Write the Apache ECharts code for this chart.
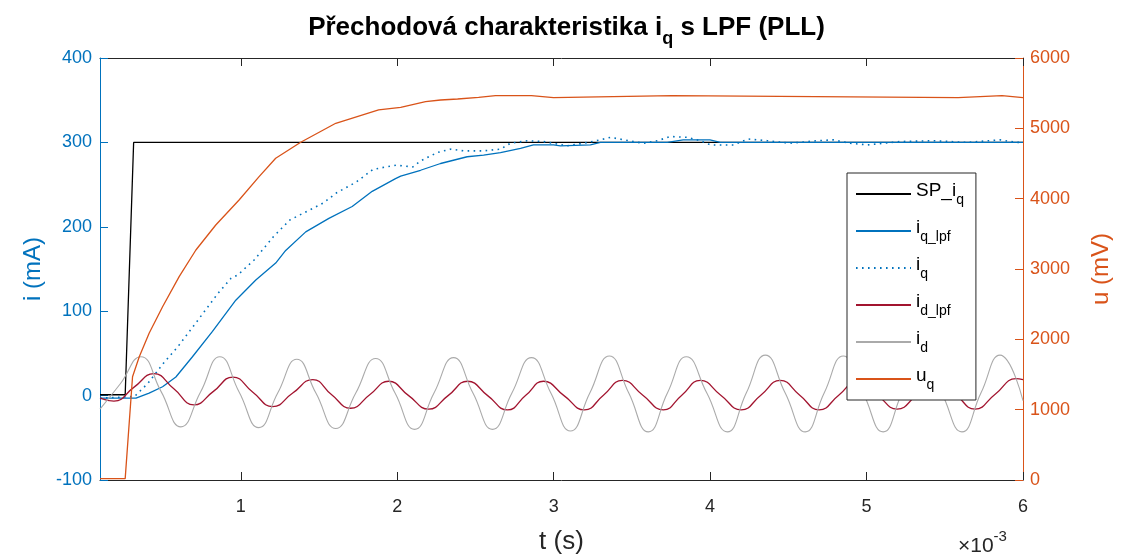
<!DOCTYPE html>
<html>
<head>
<meta charset="utf-8">
<script src="https://cdn.jsdelivr.net/npm/echarts@6/dist/echarts.min.js"></script>
<style>
html, body { margin: 0; padding: 0; background: #fff; }
#chart { width: 1133px; height: 556px; }
</style>
</head>
<body>
<div id="chart"></div>
<script>
// osa x v ms (zobrazeno jako x10^-3 s)
var xTicks = [1, 2, 3, 4, 5, 6];

// SP_iq - zadana hodnota
var tSp = [0.1, 0.261, 0.315, 6];
var spIq = [1, 1, 300, 300];

// iq_lpf - filtrovany proud
var tIqLpf = [0.1, 0.33, 0.414, 0.5, 0.585, 0.691, 0.819, 0.968, 1.096, 1.223, 1.287, 1.415, 1.563, 1.712, 1.84, 1.989,
  2.022, 2.149, 2.277, 2.447, 2.552, 2.66, 2.788, 2.871, 2.999, 3.043, 3.235, 3.299, 3.726, 3.828, 3.999, 4.065, 6];
var iqLpf = [-3, -3, 3, 10.5, 22, 46, 76, 113, 137, 157, 172, 194, 210, 224, 242, 257,
  260, 267, 275, 283, 285, 288, 293, 297, 297, 296, 297, 300, 300, 303, 303, 300, 300];

// iq - nefiltrovany proud
var tIq = [0.1, 0.321, 0.406, 0.513, 0.598, 0.704, 0.789, 0.853, 0.938, 0.981, 1.087, 1.207, 1.313, 1.398, 1.526, 1.61,
  1.738, 1.845, 1.93, 1.994, 2.1, 2.149, 2.256, 2.341, 2.424, 2.552, 2.66, 2.724, 2.831, 2.935, 3.088, 3.19, 3.299,
  3.363, 3.51, 3.573, 3.663, 3.746, 3.854, 3.937, 4.003, 4.149, 4.244, 4.365, 4.512, 4.684, 4.787, 4.895, 5.004,
  5.215, 5.425, 5.642, 5.853, 5.962, 6];
var iq = [-3, -1, 14.5, 40, 58, 84, 105, 121, 139, 143, 161, 188, 208, 216, 228, 240,
  253, 268, 271, 273, 271, 278, 288, 292, 290, 290, 292, 299, 302, 301, 296, 299, 303,
  306, 301, 299, 302, 307, 306, 302, 297, 297, 304, 302, 299, 302, 303, 299, 297,
  301, 302, 300, 303, 300, 300];

// id_lpf
var tIdLpf = [0.1, 0.189, 0.318, 0.444, 0.572, 0.7, 0.825, 0.949, 1.077, 1.204, 1.332, 1.46, 1.581, 1.702, 1.824, 1.945,
  2.073, 2.201, 2.325, 2.45, 2.578, 2.705, 2.82, 2.935, 3.066, 3.197, 3.318, 3.439, 3.57, 3.701, 3.819, 3.937,
  4.068, 4.199, 4.324, 4.448, 4.573, 4.697, 4.822, 4.946, 5.071, 5.195, 5.323, 5.451, 5.572, 5.693, 5.824, 5.955, 6];
var idLpf = [-3, -6.5, 10, 26, 8, -11, 5, 22, 4, -13, 3, 19, 1, -15, 1, 17,
  0, -16, 0, 17, 0, -17, 0, 17, 0, -17, 0.5, 18, 0.5, -17, 0.5, 18,
  0.5, -17, 0.5, 18, 0.5, -17, 0.5, 18, 0.5, -16, 1, 19, 1, -16, 2, 20, 19];

// id
var tId = [0.1, 0.23, 0.361, 0.49, 0.617, 0.742, 0.866, 0.99, 1.115, 1.236, 1.358, 1.48, 1.607, 1.735, 1.862, 1.986,
  2.111, 2.235, 2.36, 2.484, 2.609, 2.733, 2.858, 2.982, 3.107, 3.231, 3.356, 3.48, 3.605, 3.727, 3.848, 3.979,
  4.11, 4.231, 4.353, 4.48, 4.608, 4.729, 4.851, 4.978, 5.106, 5.227, 5.349, 5.48, 5.61, 5.731, 5.853, 6];
var id = [-16, 14, 46, 5, -37, 4, 46, 4, -38, 3, 43, 3, -39, 3, 44, 3,
  -40, 3, 45, 3, -40, 3, 45, 3, -42, 3, 47, 3, -43, 3, 46, 3,
  -43, 3, 48, 3, -43, 3, 47, 3, -43, 3, 47, 3, -43, 3, 48, -6];

// uq - napeti (mV), prava osa
var tUq = [0.1, 0.261, 0.308, 0.351, 0.414, 0.5, 0.606, 0.713, 0.84, 0.989, 1.117, 1.223, 1.383, 1.607, 1.881,
  2.022, 2.181, 2.277, 2.386, 2.52, 2.628, 2.858, 2.858, 2.999, 2.999, 3.759, 3.759, 5.585, 5.585, 5.866, 5.866, 6];
var uq = [20, 20, 1469, 1753, 2086, 2464, 2891, 3270, 3626, 3981, 4313, 4574, 4802, 5072, 5261,
  5299, 5379, 5403, 5417, 5441, 5464, 5464, 5436, 5436, 5464, 5464, 5436, 5436, 5464, 5464, 5436, 5436];

var legendLabels = {
  'SP_iq': '{m|SP_i}{s|q}',
  'iq_lpf': '{m|i}{s|q_lpf}',
  'iq': '{m|i}{s|q}',
  'id_lpf': '{m|i}{s|d_lpf}',
  'id': '{m|i}{s|d}',
  'uq': '{m|u}{s|q}'
};

function pairs(t, v) {
  return t.map(function (x, i) { return [x, v[i]]; });
}

var FONT = 'Liberation Sans';
var BLUE = '#0072BD';
var ORANGE = '#D95319';
var DARK = '#262626';

var chart = echarts.init(document.getElementById('chart'));
var option = {
  backgroundColor: '#fff',
  animation: false,
  textStyle: { fontFamily: FONT },
  title: {
    text: '{t|Přechodová charakteristika i}{ts|q}{t| s LPF (PLL)}',
    left: 'center',
    top: 15,
    padding: [0, 10, 0, 0],
    textStyle: {
      rich: {
        t: { fontFamily: FONT, fontWeight: 'bold', fontSize: 26, color: '#000', lineHeight: 33, verticalAlign: 'top' },
        ts: { fontFamily: FONT, fontWeight: 'bold', fontSize: 18, color: '#000', lineHeight: 33, verticalAlign: 'bottom' }
      }
    }
  },
  grid: { left: 100, right: 110, top: 58, bottom: 76, containLabel: false, outerBoundsMode: 'none' },
  legend: {
    orient: 'vertical',
    left: 847,
    top: 173,
    padding: [8, 12, 8, 8],
    itemWidth: 55,
    itemHeight: 14,
    itemGap: 11,
    borderColor: DARK,
    borderWidth: 1,
    borderRadius: 0,
    backgroundColor: '#fff',
    itemStyle: { opacity: 0 },
    data: ['SP_iq', 'iq_lpf', 'iq', 'id_lpf', 'id', 'uq'],
    formatter: function (name) { return legendLabels[name]; },
    textStyle: {
      rich: {
        m: { fontFamily: FONT, fontSize: 19, color: '#000', lineHeight: 26, verticalAlign: 'top' },
        s: { fontFamily: FONT, fontSize: 14, color: '#000', lineHeight: 26, verticalAlign: 'bottom' }
      }
    }
  },
  xAxis: [
    {
      type: 'value', min: 0.1, max: 6, position: 'bottom',
      name: 't (s)', nameLocation: 'middle', nameGap: 49,
      nameTextStyle: { fontFamily: FONT, fontSize: 26, color: DARK },
      axisLine: { show: true, onZero: false, lineStyle: { color: DARK, width: 1 } },
      axisTick: { show: true, inside: true, length: 8, customValues: xTicks, lineStyle: { color: DARK } },
      axisLabel: { customValues: xTicks, margin: 18, fontFamily: FONT, fontSize: 18, color: DARK },
      splitLine: { show: false }
    },
    {
      type: 'value', min: 0.1, max: 6, position: 'top',
      axisLine: { show: true, onZero: false, lineStyle: { color: DARK, width: 1 } },
      axisTick: { show: true, inside: true, length: 8, customValues: xTicks, lineStyle: { color: DARK } },
      axisLabel: { show: false },
      splitLine: { show: false }
    }
  ],
  yAxis: [
    {
      type: 'value', min: -100, max: 400, interval: 100, position: 'left',
      name: 'i (mA)', nameLocation: 'middle', nameGap: 54,
      nameTextStyle: { fontFamily: FONT, fontSize: 24, color: BLUE },
      axisLine: { show: true, onZero: false, lineStyle: { color: BLUE, width: 1 } },
      axisTick: { show: true, inside: true, length: 8, lineStyle: { color: BLUE } },
      axisLabel: { margin: 8, fontFamily: FONT, fontSize: 18, color: BLUE },
      splitLine: { show: false }
    },
    {
      type: 'value', min: 0, max: 6000, interval: 1000, position: 'right',
      name: 'u (mV)', nameLocation: 'middle', nameGap: 66,
      nameTextStyle: { fontFamily: FONT, fontSize: 24, color: ORANGE },
      axisLine: { show: true, onZero: false, lineStyle: { color: ORANGE, width: 1 } },
      axisTick: { show: true, inside: true, length: 8, lineStyle: { color: ORANGE } },
      axisLabel: { margin: 7, fontFamily: FONT, fontSize: 18, color: ORANGE, formatter: function (v) { return String(v); } },
      splitLine: { show: false }
    }
  ],
  graphic: [
    {
      type: 'text', left: 958, top: 529,
      style: {
        text: '{a|×10}{b|-3}',
        rich: {
          a: { fontFamily: FONT, fontSize: 21, fill: DARK, lineHeight: 28, verticalAlign: 'bottom' },
          b: { fontFamily: FONT, fontSize: 15, fill: DARK, lineHeight: 28, verticalAlign: 'top' }
        }
      }
    }
  ],
  series: [
    {
      name: 'SP_iq', type: 'line', data: pairs(tSp, spIq), symbol: 'none',
      lineStyle: { color: '#000', width: 1.3 }, itemStyle: { color: '#000' }
    },
    {
      name: 'iq_lpf', type: 'line', data: pairs(tIqLpf, iqLpf), symbol: 'none',
      lineStyle: { color: BLUE, width: 1.3 }, itemStyle: { color: BLUE }
    },
    {
      name: 'iq', type: 'line', data: pairs(tIq, iq), symbol: 'none',
      lineStyle: { color: BLUE, width: 1.6, type: [1.6, 4.4] }, itemStyle: { color: BLUE }
    },
    {
      name: 'id_lpf', type: 'line', data: pairs(tIdLpf, idLpf), symbol: 'none', smooth: 0.5,
      lineStyle: { color: '#A2142F', width: 1.3 }, itemStyle: { color: '#A2142F' }
    },
    {
      name: 'id', type: 'line', data: pairs(tId, id), symbol: 'none', smooth: 0.5,
      lineStyle: { color: '#AAAAAA', width: 1.1 }, itemStyle: { color: '#AAAAAA' }
    },
    {
      name: 'uq', type: 'line', yAxisIndex: 1, data: pairs(tUq, uq), symbol: 'none',
      lineStyle: { color: ORANGE, width: 1.3 }, itemStyle: { color: ORANGE }
    }
  ]
};
chart.setOption(option);
</script>
</body>
</html>
